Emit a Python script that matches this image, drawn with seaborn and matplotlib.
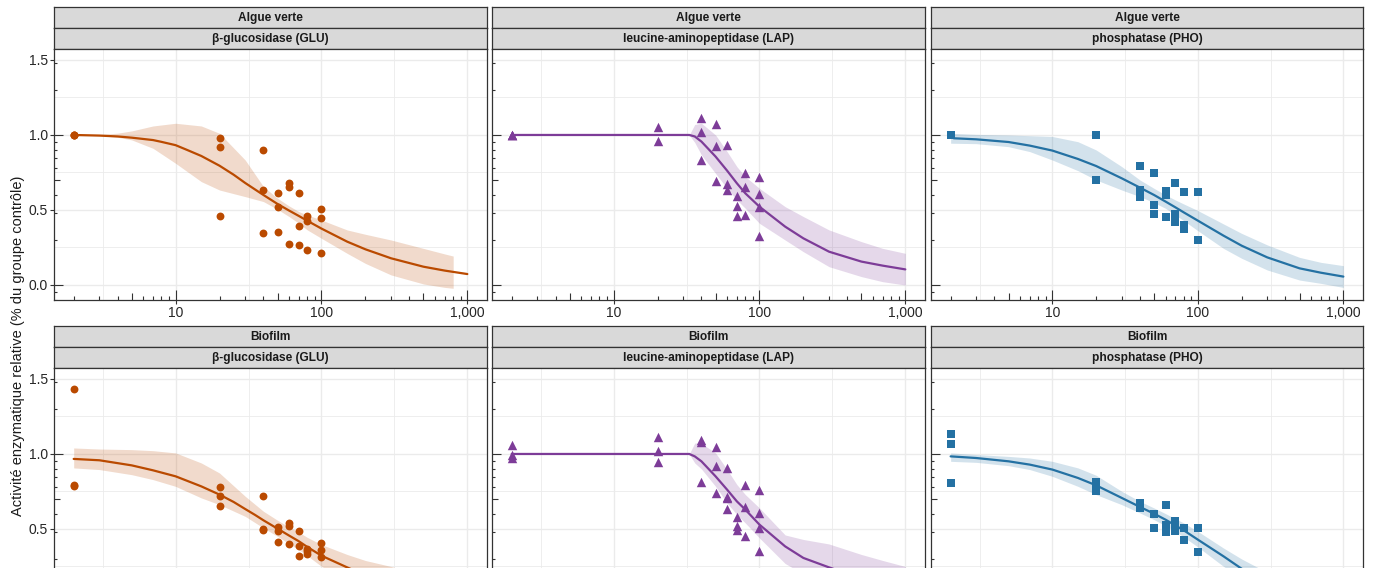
import numpy as np
import pandas as pd
import matplotlib
matplotlib.use("Agg")
import matplotlib.pyplot as plt
from matplotlib.ticker import NullFormatter, FixedLocator
import seaborn as sns

# ---------------------------------------------------------------- labels
MILIEUX = ["Algue verte", "Biofilm"]
ENZYMES = ["β-glucosidase (GLU)", "leucine-aminopeptidase (LAP)", "phosphatase (PHO)"]
COULEURS = ["#BA4A00", "#7D3C98", "#2471A3"]
MARQUEURS = ["o", "^", "s"]
TAILLES = [32, 46, 27]

X_TICKS = [10, 100, 1000]
X_TICK_LABELS = ["10", "100", "1,000"]
Y_TICKS = [0.0, 0.5, 1.0, 1.5]
Y_TICK_LABELS = ["0.0", "0.5", "1.0", "1.5"]
Y_TITRE = "Activité enzymatique relative (% du groupe contrôle)"

# ---------------------------------------------------------------- observations
ALGUE_GLU_DOSE = [2, 2, 2, 20, 20, 20, 40, 40, 40, 50, 50, 50, 60, 60, 60,
                  70, 70, 70, 80, 80, 80, 100, 100, 100]
ALGUE_GLU_ACT = [1.0, 1.0, 1.0, 0.98, 0.92, 0.457, 0.902, 0.632, 0.346,
                 0.616, 0.522, 0.356, 0.681, 0.653, 0.275, 0.611, 0.396, 0.266,
                 0.463, 0.427, 0.23, 0.508, 0.447, 0.213]

ALGUE_LAP_DOSE = [2, 2, 2, 20, 20, 40, 40, 40, 50, 50, 50, 60, 60, 60,
                  70, 70, 70, 80, 80, 80, 100, 100, 100, 100]
ALGUE_LAP_ACT = [1.0, 1.0, 1.0, 1.05, 0.958, 1.111, 1.02, 0.832,
                 1.075, 0.928, 0.695, 0.933, 0.673, 0.635, 0.595, 0.525, 0.463,
                 0.748, 0.656, 0.469, 0.717, 0.609, 0.519, 0.326]

ALGUE_PHO_DOSE = [2, 2, 2, 20, 20, 40, 40, 40, 40, 50, 50, 50, 60, 60, 60,
                  70, 70, 70, 80, 80, 80, 100, 100]
ALGUE_PHO_ACT = [1.0, 1.0, 1.0, 0.997, 0.698, 0.796, 0.635, 0.61, 0.589,
                 0.744, 0.532, 0.47, 0.626, 0.598, 0.456, 0.678, 0.475, 0.422,
                 0.62, 0.397, 0.371, 0.622, 0.299]

BIOFILM_GLU_DOSE = [2, 2, 2, 20, 20, 20, 40, 40, 40, 50, 50, 50, 60, 60, 60,
                    70, 70, 70, 80, 80, 80, 100, 100, 100]
BIOFILM_GLU_ACT = [1.43, 0.795, 0.785, 0.777, 0.72, 0.651, 0.718, 0.50, 0.495,
                   0.51, 0.487, 0.413, 0.54, 0.517, 0.398, 0.484, 0.384, 0.318,
                   0.369, 0.35, 0.333, 0.405, 0.36, 0.315]

BIOFILM_LAP_DOSE = [2, 2, 2, 20, 20, 20, 40, 40, 40, 50, 50, 50, 60, 60, 60, 60,
                    70, 70, 70, 80, 80, 80, 100, 100, 100, 100]
BIOFILM_LAP_ACT = [1.062, 0.991, 0.972, 1.113, 1.018, 0.944, 1.094, 1.08, 0.811,
                   1.044, 0.92, 0.74, 0.905, 0.716, 0.706, 0.632, 0.582, 0.522, 0.491,
                   0.796, 0.647, 0.454, 0.758, 0.607, 0.507, 0.356]

BIOFILM_PHO_DOSE = [2, 2, 2, 20, 20, 20, 40, 40, 40, 50, 50, 60, 60, 60, 60,
                    70, 70, 70, 80, 80, 100, 100]
BIOFILM_PHO_ACT = [1.136, 1.069, 0.809, 0.81, 0.78, 0.75, 0.67, 0.655, 0.64,
                   0.602, 0.507, 0.662, 0.525, 0.50, 0.48, 0.555, 0.51, 0.487,
                   0.505, 0.429, 0.505, 0.344]

# ---------------------------------------------------------------- fitted curves
ALGUE_GLU_COURBE_DOSE = [2, 3, 4, 5, 7, 8, 10, 12, 15, 20, 25, 30, 35, 40, 50, 60,
                         70, 80, 100, 150, 200, 300, 500, 700, 1000]
ALGUE_GLU_AJUST = [1.0, 0.996, 0.99, 0.982, 0.966, 0.954, 0.932, 0.90, 0.86, 0.795,
                   0.735, 0.68, 0.637, 0.60, 0.54, 0.496, 0.46, 0.428, 0.376,
                   0.289, 0.238, 0.178, 0.122, 0.096, 0.073]
ALGUE_GLU_BANDE_DOSE = [2, 3, 4, 5, 7, 10, 15, 20, 30, 40, 50, 60, 70, 80, 100,
                        150, 200, 300, 500, 700, 800]
ALGUE_GLU_BAS = [1.0, 0.995, 0.985, 0.967, 0.911, 0.811, 0.689, 0.633, 0.589, 0.556,
                 0.504, 0.456, 0.411, 0.367, 0.311, 0.211, 0.144, 0.067, 0.007,
                 -0.016, -0.022]
ALGUE_GLU_HAUT = [1.0, 1.003, 1.012, 1.027, 1.06, 1.078, 1.06, 1.011, 0.833, 0.656,
                  0.578, 0.527, 0.489, 0.467, 0.433, 0.367, 0.338, 0.30, 0.244,
                  0.207, 0.193]

ALGUE_LAP_COURBE_DOSE = [2, 33, 36, 40, 50, 60, 70, 80, 100, 150, 200, 300, 500,
                         700, 1000]
ALGUE_LAP_AJUST = [1.0, 1.0, 0.99, 0.956, 0.856, 0.762, 0.678, 0.611, 0.522, 0.389,
                   0.311, 0.222, 0.156, 0.129, 0.104]
ALGUE_LAP_BANDE_DOSE = [33, 36, 40, 50, 60, 70, 80, 100, 150, 200, 300, 500, 700,
                        1000]
ALGUE_LAP_BAS = [1.0, 0.95, 0.867, 0.744, 0.644, 0.567, 0.511, 0.411, 0.30, 0.222,
                 0.122, 0.056, 0.022, 0.0]
ALGUE_LAP_HAUT = [1.0, 1.07, 1.078, 1.0, 0.889, 0.789, 0.722, 0.644, 0.522, 0.456,
                  0.367, 0.289, 0.244, 0.211]

ALGUE_PHO_COURBE_DOSE = [2, 2.1, 3, 5, 7, 10, 15, 20, 30, 40, 50, 60, 70, 80, 100,
                         150, 200, 300, 500, 700, 1000]
ALGUE_PHO_AJUST = [1.0, 0.978, 0.971, 0.953, 0.929, 0.896, 0.84, 0.793, 0.711,
                   0.649, 0.60, 0.556, 0.518, 0.484, 0.429, 0.329, 0.262, 0.184,
                   0.111, 0.082, 0.056]
ALGUE_PHO_BANDE_DOSE = [2, 3, 5, 7, 10, 15, 20, 30, 40, 50, 60, 70, 80, 100, 150,
                        200, 300, 500, 700, 1000]
ALGUE_PHO_BAS = [0.945, 0.942, 0.922, 0.889, 0.833, 0.762, 0.70, 0.633, 0.589,
                 0.549, 0.511, 0.467, 0.429, 0.362, 0.244, 0.178, 0.10, 0.033,
                 0.011, -0.016]
ALGUE_PHO_HAUT = [1.011, 1.004, 1.0, 0.995, 0.99, 0.955, 0.90, 0.789, 0.70, 0.644,
                  0.60, 0.567, 0.54, 0.496, 0.407, 0.344, 0.267, 0.184, 0.151, 0.129]

BIOFILM_GLU_COURBE_DOSE = [2, 3, 5, 7, 10, 15, 20, 25, 30, 35, 40, 50, 60, 70, 80,
                           100, 150, 200, 300, 500, 700, 1000]
BIOFILM_GLU_AJUST = [0.967, 0.958, 0.924, 0.891, 0.851, 0.784, 0.729, 0.68, 0.633,
                     0.594, 0.558, 0.502, 0.456, 0.418, 0.38, 0.322, 0.244, 0.19,
                     0.13, 0.08, 0.06, 0.045]
BIOFILM_GLU_BANDE_DOSE = [2, 3, 5, 7, 10, 15, 20, 30, 40, 50, 60, 70, 80, 100,
                          150, 200, 300, 500, 700, 1000]
BIOFILM_GLU_BAS = [0.907, 0.896, 0.862, 0.829, 0.784, 0.707, 0.662, 0.584, 0.507,
                   0.451, 0.402, 0.362, 0.322, 0.251, 0.15, 0.09, 0.04, 0.0,
                   -0.01, -0.02]
BIOFILM_GLU_HAUT = [1.04, 1.033, 1.029, 1.022, 1.007, 0.94, 0.873, 0.718, 0.618,
                    0.558, 0.513, 0.478, 0.444, 0.396, 0.33, 0.29, 0.25, 0.19,
                    0.16, 0.13]

BIOFILM_LAP_COURBE_DOSE = [2, 33, 36, 40, 50, 60, 70, 80, 100, 150, 200, 300, 500,
                           700, 1000]
BIOFILM_LAP_AJUST = [1.0, 1.0, 0.984, 0.951, 0.851, 0.762, 0.684, 0.629, 0.529,
                     0.384, 0.307, 0.244, 0.17, 0.14, 0.11]
BIOFILM_LAP_BANDE_DOSE = [33, 36, 40, 50, 60, 70, 80, 100, 150, 200, 300, 500,
                          700, 1000]
BIOFILM_LAP_BAS = [1.0, 0.94, 0.90, 0.784, 0.673, 0.596, 0.54, 0.44, 0.27, 0.20,
                   0.14, 0.07, 0.03, 0.0]
BIOFILM_LAP_HAUT = [1.0, 1.073, 1.07, 1.007, 0.896, 0.796, 0.729, 0.64, 0.46, 0.43,
                    0.40, 0.33, 0.29, 0.25]

BIOFILM_PHO_COURBE_DOSE = [2, 3, 5, 7, 10, 15, 20, 30, 40, 50, 60, 70, 80, 100,
                           150, 200, 300, 500, 700, 1000]
BIOFILM_PHO_AJUST = [0.984, 0.973, 0.951, 0.929, 0.896, 0.84, 0.791, 0.707, 0.647,
                     0.602, 0.562, 0.524, 0.491, 0.429, 0.318, 0.235, 0.15, 0.09,
                     0.06, 0.04]
BIOFILM_PHO_BANDE_DOSE = BIOFILM_PHO_COURBE_DOSE
BIOFILM_PHO_BAS = [0.951, 0.944, 0.922, 0.896, 0.851, 0.784, 0.729, 0.662, 0.607,
                   0.562, 0.522, 0.484, 0.447, 0.38, 0.251, 0.17, 0.09, 0.03,
                   0.01, 0.0]
BIOFILM_PHO_HAUT = [1.007, 0.996, 0.984, 0.973, 0.951, 0.907, 0.858, 0.751, 0.684,
                    0.64, 0.602, 0.569, 0.54, 0.484, 0.373, 0.30, 0.21, 0.14,
                    0.11, 0.09]

PANNEAUX = [
    [(ALGUE_GLU_DOSE, ALGUE_GLU_ACT, ALGUE_GLU_COURBE_DOSE, ALGUE_GLU_AJUST,
      ALGUE_GLU_BANDE_DOSE, ALGUE_GLU_BAS, ALGUE_GLU_HAUT),
     (ALGUE_LAP_DOSE, ALGUE_LAP_ACT, ALGUE_LAP_COURBE_DOSE, ALGUE_LAP_AJUST,
      ALGUE_LAP_BANDE_DOSE, ALGUE_LAP_BAS, ALGUE_LAP_HAUT),
     (ALGUE_PHO_DOSE, ALGUE_PHO_ACT, ALGUE_PHO_COURBE_DOSE, ALGUE_PHO_AJUST,
      ALGUE_PHO_BANDE_DOSE, ALGUE_PHO_BAS, ALGUE_PHO_HAUT)],
    [(BIOFILM_GLU_DOSE, BIOFILM_GLU_ACT, BIOFILM_GLU_COURBE_DOSE, BIOFILM_GLU_AJUST,
      BIOFILM_GLU_BANDE_DOSE, BIOFILM_GLU_BAS, BIOFILM_GLU_HAUT),
     (BIOFILM_LAP_DOSE, BIOFILM_LAP_ACT, BIOFILM_LAP_COURBE_DOSE, BIOFILM_LAP_AJUST,
      BIOFILM_LAP_BANDE_DOSE, BIOFILM_LAP_BAS, BIOFILM_LAP_HAUT),
     (BIOFILM_PHO_DOSE, BIOFILM_PHO_ACT, BIOFILM_PHO_COURBE_DOSE, BIOFILM_PHO_AJUST,
      BIOFILM_PHO_BANDE_DOSE, BIOFILM_PHO_BAS, BIOFILM_PHO_HAUT)],
]

# ---------------------------------------------------------------- style
sns.set_theme(style="white")
plt.rcParams["font.family"] = ["Liberation Sans", "DejaVu Sans"]

W, H = 1375, 568
fig = plt.figure(figsize=(W / 100, H / 100), dpi=100)

COLONNES = [(54, 487), (492, 925), (931, 1363)]
LIGNES = [(49, 300), (368, 619)]      # panel top / bottom, pixels from the top
BANDEAU = 21
GRIS = "#333333"
TEXTE = "#1A1A1A"

LOG_MIN, LOG_MAX = np.log10(2), 3.0
ETENDUE = 0.05 * (LOG_MAX - LOG_MIN)
XLIM = (10 ** (LOG_MIN - ETENDUE), 10 ** (LOG_MAX + ETENDUE))
YLIM = (-0.1, 1.573)


def boite(x0, y0, x1, y1):
    return [x0 / W, 1 - y1 / H, (x1 - x0) / W, (y1 - y0) / H]


def bandeau(x0, x1, y0, texte):
    ax = fig.add_axes(boite(x0, y0, x1, y0 + BANDEAU))
    ax.set_facecolor("#D9D9D9")
    ax.set_xticks([])
    ax.set_yticks([])
    for s in ax.spines.values():
        s.set_color(GRIS)
        s.set_linewidth(0.9)
    ax.text(0.5, 0.48, texte, ha="center", va="center", fontsize=8.6,
            fontweight="bold", color=TEXTE, transform=ax.transAxes)


def graduations_log(ax, w_px, h_px):
    tx = ax.get_xaxis_transform()
    ty = ax.get_yaxis_transform()
    for n in range(0, 4):
        for k in range(1, 10):
            v = k * 10 ** n
            if XLIM[0] <= v <= XLIM[1]:
                L = 10 if k == 1 else (7 if k == 5 else 4)
                ax.plot([v, v], [0, L / h_px], transform=tx, color=GRIS, lw=0.8,
                        solid_capstyle="butt", zorder=5)
    for n in (-1, 0, 1):
        for k in range(1, 10):
            v = np.log10(k) + n
            if YLIM[0] <= v <= YLIM[1]:
                L = 9 if k == 1 else (6 if k == 5 else 3)
                ax.plot([0, L / w_px], [v, v], transform=ty, color=GRIS, lw=0.8,
                        solid_capstyle="butt", zorder=5)


for i, (y0, y1) in enumerate(LIGNES):
    for j, (x0, x1) in enumerate(COLONNES):
        dose, act, c_dose, ajust, b_dose, bas, haut = PANNEAUX[i][j]
        couleur = COULEURS[j]

        bandeau(x0, x1, y0 - 2 * BANDEAU, MILIEUX[i])
        bandeau(x0, x1, y0 - BANDEAU, ENZYMES[j])

        ax = fig.add_axes(boite(x0, y0, x1, y1))
        ax.set_facecolor("white")
        ax.set_xscale("log")

        pts = pd.DataFrame({"dose": dose, "activite": act})
        sns.scatterplot(data=pts, x="dose", y="activite", ax=ax, color=couleur,
                        marker=MARQUEURS[j], s=TAILLES[j], linewidth=0,
                        zorder=3, legend=False)
        ax.fill_between(b_dose, bas, haut, color=couleur, alpha=0.2, lw=0, zorder=2)
        courbe = pd.DataFrame({"dose": c_dose, "activite": ajust})
        sns.lineplot(data=courbe, x="dose", y="activite", ax=ax, color=couleur,
                     lw=1.6, estimator=None, sort=False, zorder=4)

        ax.set_xlim(*XLIM)
        ax.set_ylim(*YLIM)
        ax.set_xlabel("")
        ax.set_ylabel("")

        ax.xaxis.set_major_locator(FixedLocator(X_TICKS))
        ax.set_xticklabels(X_TICK_LABELS)
        ax.xaxis.set_minor_locator(FixedLocator([10 ** 0.5, 10 ** 1.5, 10 ** 2.5]))
        ax.xaxis.set_minor_formatter(NullFormatter())
        # the lower row runs past the bottom edge of the figure: only the
        # ticks that stay inside it get a label
        visibles = [t for t in Y_TICKS if i == 0 or t > 0.2]
        ax.set_yticks(visibles)
        ax.set_yticks([0.25, 0.75, 1.25], minor=True)
        if j == 0:
            ax.set_yticklabels([lab for t, lab in zip(Y_TICKS, Y_TICK_LABELS)
                                if t in visibles])
        else:
            ax.set_yticklabels([])

        ax.grid(True, which="major", color="#EBEBEB", lw=1.0)
        ax.grid(True, which="minor", color="#EBEBEB", lw=0.6)
        ax.set_axisbelow(True)

        ax.tick_params(axis="both", which="major", direction="out", length=3,
                       width=0.8, color=GRIS, labelsize=10, labelcolor="#262626",
                       pad=1.5)
        ax.tick_params(axis="both", which="minor", length=0)
        ax.tick_params(axis="y", which="major", left=(j == 0))
        ax.tick_params(axis="x", which="major", bottom=True, labelbottom=(i == 0))

        for s in ax.spines.values():
            s.set_color(GRIS)
            s.set_linewidth(0.9)

        graduations_log(ax, x1 - x0, y1 - y0)

fig.text(18 / W, 1 - 346 / H, Y_TITRE, rotation=90, ha="center", va="center",
         fontsize=10.5, color=TEXTE)

fig.savefig("out.png", dpi=100)
